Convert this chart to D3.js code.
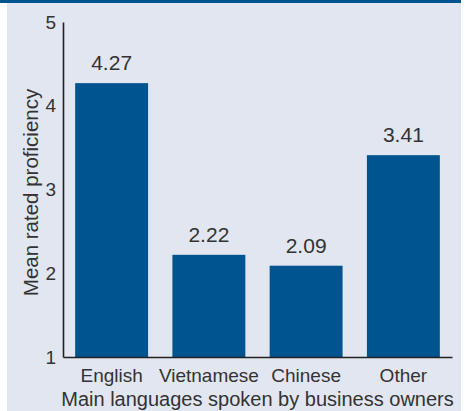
<!DOCTYPE html>
<html>
<head>
<meta charset="utf-8">
<script src="https://cdn.jsdelivr.net/npm/d3@7"></script>
<style>
  body { margin: 0; background: #fff; }
  svg text { font-family: "Liberation Sans", Arial, Helvetica, sans-serif; fill: #333; }
</style>
</head>
<body>
<div id="chart"></div>
<script>
// data
var languages = ["English", "Vietnamese", "Chinese", "Other"];
var proficiency = [4.27, 2.22, 2.09, 3.41];
var yTicks = [1, 2, 3, 4, 5];

var width = 465, height = 411;
var margin = {top: 22, right: 13, bottom: 54, left: 63};

var svg = d3.select("#chart")
  .append("svg")
    .attr("width", width)
    .attr("height", height);

// panel background and the blue rule on top
svg.append("rect")
  .attr("x", 7).attr("y", 0)
  .attr("width", 454).attr("height", height)
  .attr("fill", "#e1e6f1");
svg.append("rect")
  .attr("x", 0).attr("y", 0)
  .attr("width", 461).attr("height", 3)
  .attr("fill", "#00548f");

var x = d3.scaleBand()
  .domain(languages)
  .range([margin.left, width - margin.right])
  .paddingInner(0.25)
  .paddingOuter(0.125);

var y = d3.scaleLinear()
  .domain([1, 5])
  .range([height - margin.bottom, margin.top]);

// bars
svg.append("g")
  .selectAll("rect")
  .data(proficiency)
  .enter()
  .append("rect")
    .attr("x", function(d, i) { return x(languages[i]); })
    .attr("y", function(d) { return y(d); })
    .attr("width", x.bandwidth())
    .attr("height", function(d) { return y(1) - y(d); })
    .attr("fill", "#00548f");

// value labels
svg.append("g")
  .selectAll("text")
  .data(proficiency)
  .enter()
  .append("text")
    .attr("x", function(d, i) { return x(languages[i]) + x.bandwidth() / 2; })
    .attr("y", function(d) { return y(d) - 13; })
    .attr("text-anchor", "middle")
    .style("font-size", "21px")
    .text(function(d) { return d.toFixed(2); });

// Y axis
var yAxis = svg.append("g")
  .attr("transform", "translate(" + margin.left + ",0)")
  .call(d3.axisLeft(y).tickValues(yTicks).tickFormat(d3.format("d")).tickSize(0).tickPadding(7));
yAxis.select(".domain").attr("stroke", "#222").attr("stroke-width", 1.6);
yAxis.selectAll("text").style("font-size", "19px").attr("fill", "#333");

// X axis
var xAxis = svg.append("g")
  .attr("transform", "translate(0," + (height - margin.bottom) + ")")
  .call(d3.axisBottom(x).tickSize(0).tickPadding(12));
xAxis.select(".domain").attr("stroke", "#222").attr("stroke-width", 1.6);
xAxis.selectAll("text").style("font-size", "19px").attr("fill", "#333");

// axis titles
svg.append("text")
  .attr("x", (margin.left + width - margin.right) / 2)
  .attr("y", 406)
  .attr("text-anchor", "middle")
  .style("font-size", "20px")
  .text("Main languages spoken by business owners");

svg.append("text")
  .attr("transform", "translate(38,192.5) rotate(-90)")
  .attr("text-anchor", "middle")
  .style("font-size", "20.5px")
  .text("Mean rated proficiency");
</script>
</body>
</html>
